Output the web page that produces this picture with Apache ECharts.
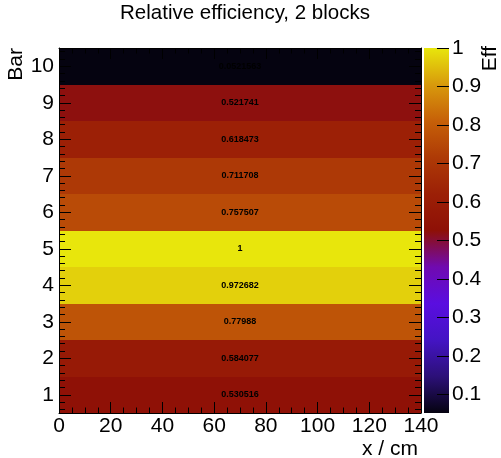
<!DOCTYPE html>
<html>
<head>
<meta charset="utf-8">
<script src="https://cdn.jsdelivr.net/npm/echarts@6/dist/echarts.min.js"></script>
<style>
html,body{margin:0;padding:0;background:#fff;}
#chart{width:501px;height:458px;}
</style>
</head>
<body>
<div id="chart"></div>
<script>
// ---- data ----
const titleText = 'Relative efficiency, 2 blocks';
const xTitle = 'x / cm';
const yTitle = 'Bar';
const zTitle = 'Eff';
const bars = [1, 2, 3, 4, 5, 6, 7, 8, 9, 10];
const efficiency = [0.530516, 0.584077, 0.77988, 0.972682, 1, 0.757507, 0.711708, 0.618473, 0.521741, 0.0521563];
const xBinEdges = [0, 140];
const yBinWidth = 1;
const xRange = [0, 140];
const yRange = [0.5, 10.5];
const xTickStep = 20;
const yTickLabels = [1, 2, 3, 4, 5, 6, 7, 8, 9, 10];
const zTickLabels = [0.1, 0.2, 0.3, 0.4, 0.5, 0.6, 0.7, 0.8, 0.9, 1];

// ---- styling ----
const FONT = '"Liberation Sans", Arial, Helvetica, sans-serif';
const palette = ['#050310', '#2c1078', '#4414c4', '#5a0ee0', '#700ab0', '#8e1006',
                 '#9c2006', '#ae3a06', '#c66008', '#d89a0c', '#e8e60c'];
const zMin = Math.min.apply(null, efficiency);
const zMax = Math.max.apply(null, efficiency);

const yMinor = [];
for (let i = Math.round(yRange[0] * 10) + 1; i < Math.round(yRange[1] * 10); i++) {
  if (i % 2 === 0 && i % 10 !== 0) yMinor.push(i / 10);
}

const seriesData = bars.map((b, i) => [xBinEdges[0], xBinEdges[1], b, efficiency[i]]);

function renderItem(params, api) {
  const x0 = api.value(0), x1 = api.value(1), yc = api.value(2), v = api.value(3);
  const tl = api.coord([x0, yc + yBinWidth / 2]);
  const br = api.coord([x1, yc - yBinWidth / 2]);
  const top = Math.round(tl[1]), bottom = Math.round(br[1]);
  const color = api.visual('color');
  return {
    type: 'group',
    children: [
      { type: 'rect', shape: { x: tl[0], y: top, width: br[0] - tl[0], height: bottom - top },
        style: { fill: color } },
      { type: 'text', x: (tl[0] + br[0]) / 2, y: (tl[1] + br[1]) / 2,
        style: { text: String(v), fill: '#000', fontSize: 9, fontWeight: 'bold', fontFamily: FONT,
                 align: 'center', verticalAlign: 'middle' } }
    ]
  };
}

// colour bar (palette legend) drawn through the z-axis scale
function renderColorBar(params, api) {
  const tl = api.coord([0, api.value(1)]);
  const br = api.coord([1, api.value(0)]);
  const stops = palette.map((c, i) => ({ offset: i / (palette.length - 1), color: c }));
  return {
    type: 'rect',
    shape: { x: tl[0], y: tl[1], width: br[0] - tl[0], height: br[1] - tl[1] },
    style: { fill: new echarts.graphic.LinearGradient(0, 1, 0, 0, stops) }
  };
}

const black = '#000';
const lineStyle = { show: true, onZero: false, lineStyle: { color: black, width: 1 } };
function xAx(pos, labels) {
  return {
    type: 'value', gridIndex: 0, position: pos, min: xRange[0], max: xRange[1], interval: xTickStep,
    z: 10,
    axisLine: lineStyle,
    axisTick: { show: true, inside: true, length: 11, lineStyle: { color: black } },
    minorTick: { show: true, splitNumber: 4, length: 5.5, lineStyle: { color: black } },
    axisLabel: { show: labels, fontFamily: FONT, fontSize: 21, color: black, margin: 3 },
    splitLine: { show: false }, minorSplitLine: { show: false }
  };
}
function yAx(pos, values, len, labels, showLine) {
  return {
    type: 'value', gridIndex: 0, position: pos, min: yRange[0], max: yRange[1],
    z: 10,
    axisLine: showLine ? lineStyle : { show: false, onZero: false },
    axisTick: { show: true, inside: true, length: len, customValues: values, lineStyle: { color: black } },
    axisLabel: { show: labels, customValues: values, fontFamily: FONT, fontSize: 21, color: black, margin: 5 },
    splitLine: { show: false }
  };
}

const chart = echarts.init(document.getElementById('chart'), null, { renderer: 'canvas' });
chart.setOption({
  animation: false,
  backgroundColor: '#fff',
  title: {
    text: titleText, left: 245, top: 3, textAlign: 'center', padding: 0,
    textStyle: { fontFamily: FONT, fontSize: 20.5, fontWeight: 'normal', color: black }
  },
  grid: [
    { left: 59, top: 48, width: 362, height: 365, containLabel: false },
    { left: 424, top: 48, width: 25, height: 365, containLabel: false }
  ],
  xAxis: [
    xAx('bottom', true),
    xAx('top', false),
    { type: 'value', gridIndex: 1, show: false, min: 0, max: 1, axisLine: { onZero: false } }
  ],
  yAxis: [
    yAx('left', yTickLabels, 12, true, true),
    yAx('left', yMinor, 6, false, false),
    yAx('right', yTickLabels, 12, false, true),
    yAx('right', yMinor, 6, false, false),
    {
      type: 'value', gridIndex: 1, position: 'right', min: zMin, max: zMax,
      z: 10,
      axisLine: { show: false, onZero: false },
      axisTick: { show: true, inside: true, length: 12, customValues: zTickLabels, lineStyle: { color: black } },
      axisLabel: { show: true, customValues: zTickLabels, fontFamily: FONT, fontSize: 21, color: black, margin: 3 },
      splitLine: { show: false }
    }
  ],
  visualMap: {
    type: 'continuous', show: false, min: zMin, max: zMax, dimension: 3, seriesIndex: 0,
    inRange: { color: palette }
  },
  graphic: [
    { type: 'text', x: 16, y: 48, rotation: Math.PI / 2,
      style: { text: yTitle, fontFamily: FONT, fontSize: 21, fill: black, align: 'right', verticalAlign: 'middle' } },
    { type: 'text', x: 490, y: 46, rotation: Math.PI / 2,
      style: { text: zTitle, fontFamily: FONT, fontSize: 21, fill: black, align: 'right', verticalAlign: 'middle' } },
    { type: 'text', x: 418, y: 449,
      style: { text: xTitle, fontFamily: FONT, fontSize: 21, fill: black, align: 'right', verticalAlign: 'middle' } }
  ],
  series: [{
    type: 'custom', xAxisIndex: 0, yAxisIndex: 0, renderItem: renderItem,
    data: seriesData, clip: true, z: 1
  }, {
    type: 'custom', xAxisIndex: 2, yAxisIndex: 4, renderItem: renderColorBar,
    data: [[zMin, zMax]], clip: false, z: 1, silent: true
  }]
});
</script>
</body>
</html>
